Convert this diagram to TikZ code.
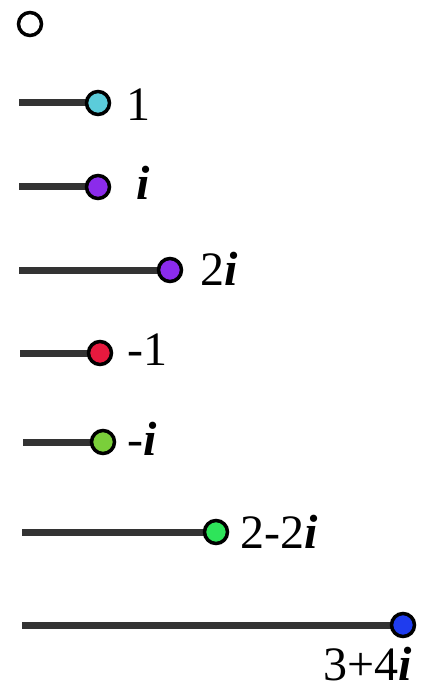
\documentclass[tikz,border=0pt]{standalone}
\usepackage{fontspec}
\setmainfont{Liberation Serif}
\definecolor{bar}{HTML}{333333}
\definecolor{ccyan}{HTML}{5BCCDA}
\definecolor{cpurple}{HTML}{8B2BEB}
\definecolor{cred}{HTML}{E8193E}
\definecolor{cyg}{HTML}{7ACF3A}
\definecolor{cgreen}{HTML}{2EE45A}
\definecolor{cblue}{HTML}{1F3CEE}
\newcommand{\ii}{\textbf{\textit{i}}}
\tikzset{
  dot/.style={circle, draw=black, line width=3.5pt, minimum size=23pt, inner sep=0pt},
  barline/.style={line width=7pt, color=bar},
  lab/.style={anchor=base west, inner sep=0pt, font=\fontsize{48}{54}\selectfont}
}
\begin{document}
\begin{tikzpicture}[x=1pt, y=-1pt]
\useasboundingbox (0,0) rectangle (427,692);
% row 0
\node[dot, fill=white] (p0) at (30,24) {};
% row 1
\coordinate (s1) at (19,103);
\draw[barline] (s1) -- (98,103);
\node[dot, fill=ccyan] (p1) at (98,103) {};
\node[lab] (l1) at (126,121) {1};
% row 2
\coordinate (s2) at (19,187);
\draw[barline] (s2) -- (98,187);
\node[dot, fill=cpurple] (p2) at (98,187) {};
\node[lab] (l2) at (136,200) {\ii};
% row 3
\coordinate (s3) at (19,270);
\draw[barline] (s3) -- (170,270);
\node[dot, fill=cpurple] (p3) at (170,270) {};
\node[lab] (l3) at (200,285) {2\ii};
% row 4
\coordinate (s4) at (20,353);
\draw[barline] (s4) -- (100,353);
\node[dot, fill=cred] (p4) at (100,353) {};
\node[lab] (l4) at (127,365) {-1};
% row 5
\coordinate (s5) at (23,442);
\draw[barline] (s5) -- (103,442);
\node[dot, fill=cyg] (p5) at (103,442) {};
\node[lab] (l5) at (127,455) {-\ii};
% row 6
\coordinate (s6) at (22,532);
\draw[barline] (s6) -- (216,532);
\node[dot, fill=cgreen] (p6) at (216,532) {};
\node[lab] (l6) at (240,548) {2-2\ii};
% row 7
\coordinate (s7) at (22,625);
\draw[barline] (s7) -- (403,625);
\node[dot, fill=cblue] (p7) at (403,625) {};
\node[lab] (l7) at (323,680) {3+4\ii};
\end{tikzpicture}
\end{document}
